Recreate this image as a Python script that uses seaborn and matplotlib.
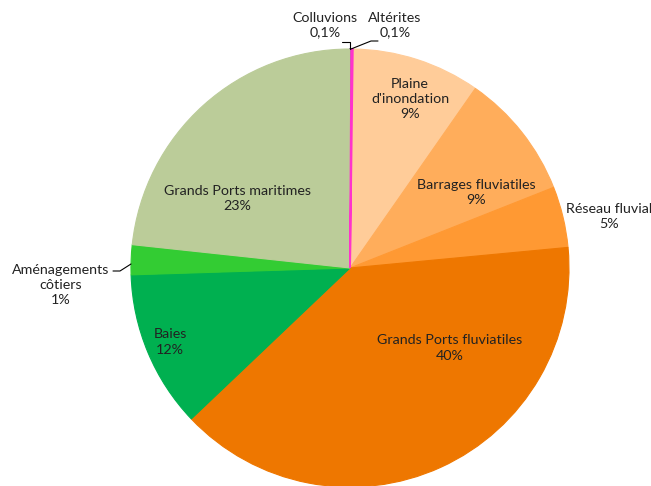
import matplotlib
matplotlib.use("Agg")
import matplotlib.pyplot as plt
import seaborn as sns

# données (lecture du graphique) — ordre horaire depuis midi
CATEGORIES = ["Colluvions", "Altérites", "Plaine\nd'inondation", "Barrages fluviatiles",
              "Réseau fluvial", "Grands Ports fluviatiles", "Baies",
              "Aménagements\ncôtiers", "Grands Ports maritimes"]
VALUES = [0.1, 0.1, 9.5, 9.3, 4.5, 39.4, 11.6, 2.2, 23.3]
PCT_LABELS = ["0,1%", "0,1%", "9%", "9%", "5%", "40%", "12%", "1%", "23%"]
COLORS = ["#7030A0", "#FF33CC", "#FFCC99", "#FFAD5B", "#FF9933", "#EE7700",
          "#00B050", "#33CC33", "#BBCC99"]

sns.set_theme(style="white")
plt.rcParams["font.family"] = ["Lato", "DejaVu Sans"]

W, H = 651, 486
fig = plt.figure(figsize=(W / 100, H / 100), dpi=100)
CX, CY, R = 350, 268, 219
ax = fig.add_axes([(CX - R) / W, (H - CY - R) / H, 2 * R / W, 2 * R / H])
wedges, _ = ax.pie(VALUES, colors=COLORS, startangle=90, counterclock=False, radius=1)
for w, c, v in zip(wedges, COLORS, VALUES):
    w.set_edgecolor(c)
    w.set_linewidth(1.4 if v < 1 else 0.8)
# la part rose par-dessus pour rester visible
wedges[1].set_zorder(wedges[0].get_zorder() + 1)
ax.set_xlim(-1, 1)
ax.set_ylim(-1, 1)
ax.set_aspect("equal")
ax.axis("off")


def d(px, py):
    return (px - CX) / R, (CY - py) / R


# positions des étiquettes (pixels)
LABEL_POS = [(325, 25), (395, 25), (410, 99), (476, 192), (609, 216),
             (450, 348), (170, 342), (61, 285), (237, 198)]
for cat, pct, (px, py) in zip(CATEGORIES, PCT_LABELS, LABEL_POS):
    x, y = d(px, py)
    ax.text(x, y, f"{cat}\n{pct}", ha="center", va="center", fontsize=10.3,
            color="#222222", linespacing=1.3, clip_on=False)

# lignes de rappel
leaders = [
    [(342, 42), (350, 42), (350, 49)],
    [(351, 49), (371, 41), (378, 41)],
    [(113, 271), (120, 271), (131, 264)],
]
for pts in leaders:
    xs, ys = zip(*[d(*p) for p in pts])
    ax.plot(xs, ys, color="black", lw=0.8, clip_on=False)

fig.savefig("out.png", dpi=100)
